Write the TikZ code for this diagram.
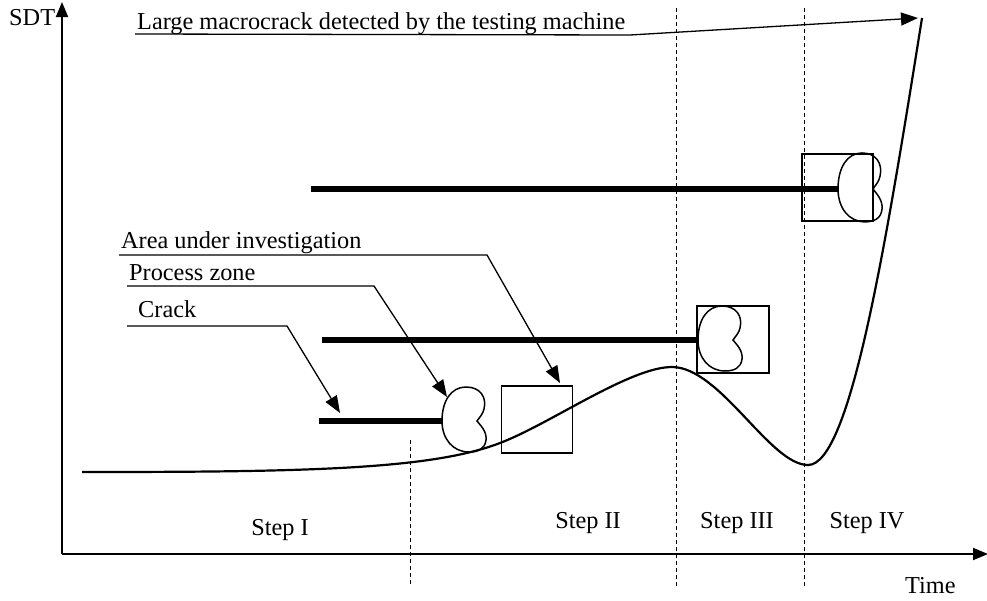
\documentclass[tikz,border=0pt]{standalone}
\usepackage{fontspec}
\setmainfont{Liberation Serif}
\usetikzlibrary{arrows.meta}
\begin{document}
\begin{tikzpicture}[x=1pt,y=-1pt,
  lbl/.style={font=\fontsize{24.3}{28}\selectfont, inner sep=0pt, anchor=base west},
  steplbl/.style={font=\fontsize{24.3}{28}\selectfont, inner sep=0pt, anchor=base},
  axis/.style={line width=1.8pt, -{Triangle[length=15pt,width=12pt]}},
  leader/.style={line width=1.3pt, -{Triangle[length=17pt,width=13pt]}},
  sep/.style={line width=0.9pt, dash pattern=on 4pt off 3pt},
  crack/.style={line width=5.5pt},
  zone/.style={draw, line width=1.4pt},
  heart/.pic={
    \draw[line width=1.5pt] (0,0)
      .. controls (0,-20) and (9,-34) .. (24,-34)
      .. controls (38,-34) and (45,-24) .. (42,-12)
      .. controls (41,-7) and (37,-3) .. (35,0)
      .. controls (38,4) and (45,10) .. (44,19)
      .. controls (43,28) and (36,31) .. (27,31)
      .. controls (11,31) and (0,18) .. (0,0) -- cycle;
  }
]
\useasboundingbox (0,0) rectangle (987,600);

% axes
\coordinate (O) at (62,554);
\coordinate (ytip) at (62,2);
\coordinate (xtip) at (988,554);
\draw[axis] (O) -- (ytip);
\draw[axis] (O) -- (xtip);
\node[lbl] (sdt) at (9,25) {SDT};
\node[lbl] (time) at (905,593) {Time};

% step separators
\coordinate (s1t) at (410,440); \coordinate (s1b) at (410,586);
\coordinate (s2t) at (676,8);   \coordinate (s2b) at (676,586);
\coordinate (s3t) at (804,8);   \coordinate (s3b) at (804,586);
\draw[sep] (s1t) -- (s1b);
\draw[sep] (s2t) -- (s2b);
\draw[sep] (s3t) -- (s3b);

\node[steplbl] (st1) at (280,535) {Step I};
\node[steplbl] (st2) at (588,528) {Step II};
\node[steplbl] (st3) at (737,528) {Step III};
\node[steplbl] (st4) at (867,528) {Step IV};

% SDT curve
\coordinate (c0) at (82,472);
\coordinate (c1) at (500,443);
\coordinate (peak) at (672,367);
\coordinate (valley) at (808,465);
\coordinate (top) at (922,18);
\draw[line width=2.2pt] (c0)
  .. controls (300,472) and (430,470) .. (c1)
  .. controls (550,424) and (630,367) .. (peak)
  .. controls (720,367) and (770,465) .. (valley)
  .. controls (850,465) and (885,250) .. (top);

% cracks
\coordinate (k1a) at (319,421); \coordinate (k1b) at (442,421);
\coordinate (k2a) at (322,340); \coordinate (k2b) at (698,340);
\coordinate (k3a) at (311,189); \coordinate (k3b) at (838,189);

% boxes (area under investigation)
\node[zone, minimum width=71pt, minimum height=67pt, inner sep=0pt] (boxA) at (537,419.5) {};
\node[zone, minimum width=72pt, minimum height=67pt, inner sep=0pt] (boxB) at (733,339.5) {};
\node[zone, minimum width=71pt, minimum height=67pt, inner sep=0pt] (boxC) at (837.5,187.5) {};

\draw[crack] (k1a) -- (k1b);
\draw[crack] (k2a) -- (k2b);
\draw[crack] (k3a) -- (k3b);

\pic at (k1b) {heart};
\pic at (k2b) {heart};
\pic[yscale=1.06] at (k3b) {heart};

% labels and leaders
\node[lbl] (lmc) at (137,29) {Large macrocrack detected by the testing machine};
\coordinate (lmc0) at (135,34);
\coordinate (lmc1) at (630,35);
\coordinate (lmcT) at (918,18);
\draw[leader] (lmc0) -- (lmc1) -- (lmcT);

\node[lbl] (area) at (121,248) {Area under investigation};
\coordinate (ar0) at (119,255);
\coordinate (ar1) at (487,255);
\coordinate (arT) at (560,383);
\draw[leader] (ar0) -- (ar1) -- (arT);

\node[lbl] (pz) at (129,280) {Process zone};
\coordinate (pz0) at (127,286);
\coordinate (pz1) at (374,286);
\coordinate (pzT) at (447,397);
\draw[leader] (pz0) -- (pz1) -- (pzT);

\node[lbl] (cr) at (138,317) {Crack};
\coordinate (cr0) at (127,326);
\coordinate (cr1) at (287,326);
\coordinate (crT) at (340,413);
\draw[leader] (cr0) -- (cr1) -- (crT);
\end{tikzpicture}
\end{document}
